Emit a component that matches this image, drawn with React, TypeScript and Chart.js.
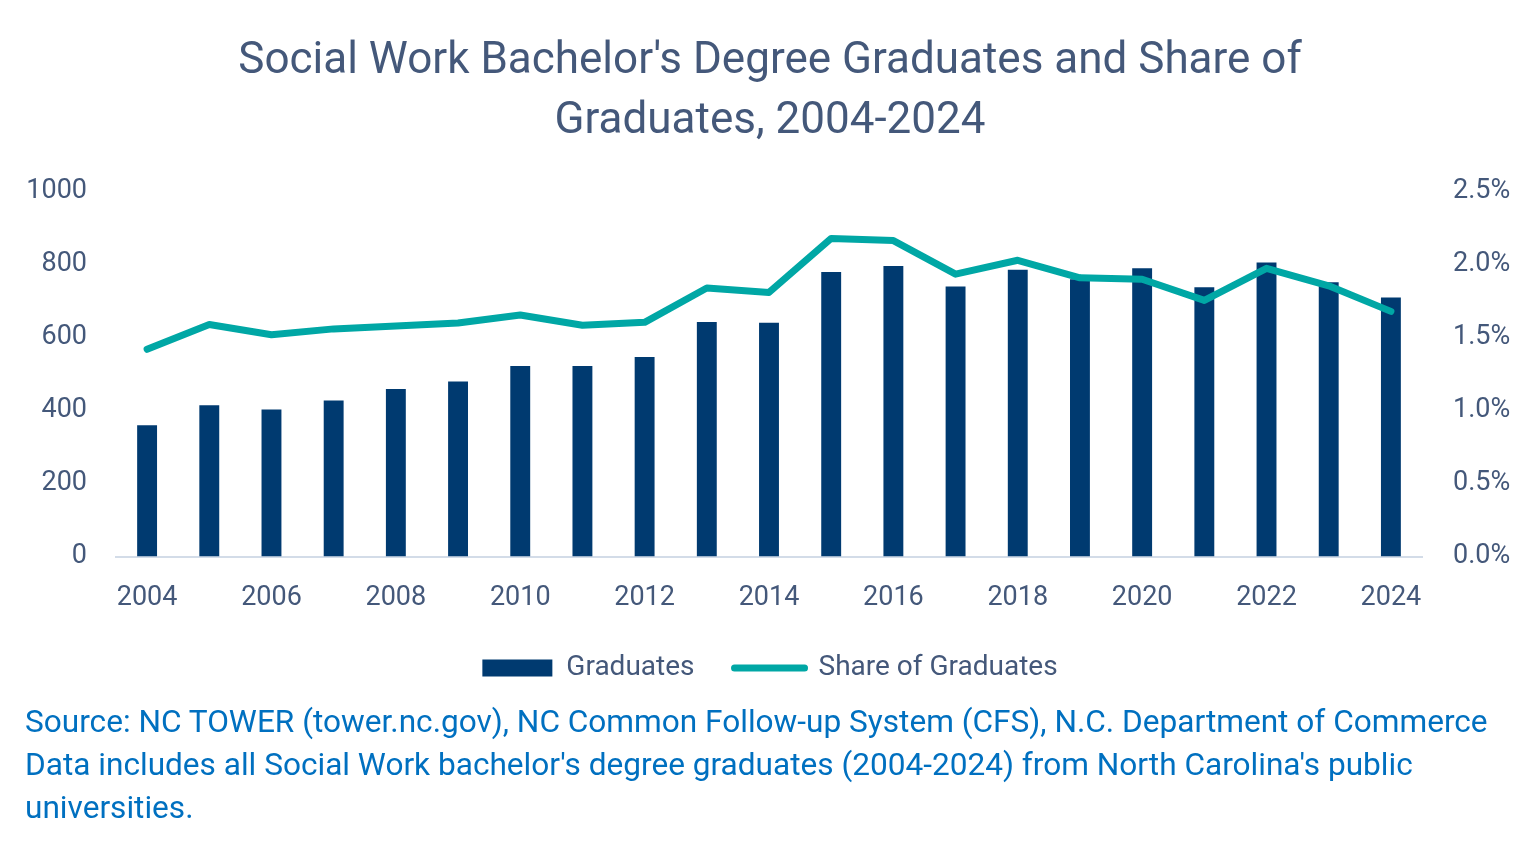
import React, { useEffect, useRef } from "react";
import { Chart, registerables } from "chart.js";

Chart.register(...registerables);

const years = ["2004","2005","2006","2007","2008","2009","2010","2011","2012","2013","2014","2015","2016","2017","2018","2019","2020","2021","2022","2023","2024"];
const graduates = [360, 415, 403, 428, 459, 480, 522, 522, 547, 643, 641, 780, 796, 740, 786, 760, 790, 738, 806, 752, 710];
const sharePct = [1.42, 1.59, 1.52, 1.56, 1.58, 1.60, 1.655, 1.585, 1.605, 1.84, 1.81, 2.18, 2.165, 1.935, 2.03, 1.91, 1.90, 1.755, 1.975, 1.855, 1.68];
const titleLines = ["Social Work Bachelor's Degree Graduates and Share of", "Graduates, 2004-2024"];
const sourceLines = [
  "Source: NC TOWER (tower.nc.gov), NC Common Follow-up System (CFS), N.C. Department of Commerce",
  "Data includes all Social Work bachelor's degree graduates (2004-2024) from North Carolina's public",
  "universities.",
];

const FONT = "'Liberation Sans Narrow', 'Roboto', sans-serif";
const TEXT = "#44587A";
const BAR = "#003A70";
const LINE = "#00A7A5";

export default function App() {
  const ref = useRef<HTMLCanvasElement | null>(null);
  useEffect(() => {
    if (!ref.current) return;
    const chart = new Chart(ref.current, {
      data: {
        labels: years,
        datasets: [
          {
            type: "line",
            label: "Share of Graduates",
            data: sharePct,
            yAxisID: "y1",
            borderColor: LINE,
            backgroundColor: LINE,
            borderWidth: 7,
            pointRadius: 0,
            borderCapStyle: "round",
            borderJoinStyle: "round",
            tension: 0,
            order: 0,
          },
          {
            type: "bar",
            label: "Graduates",
            data: graduates,
            yAxisID: "y",
            backgroundColor: BAR,
            categoryPercentage: 1,
            barPercentage: 0.32,
            order: 1,
          },
        ],
      },
      options: {
        animation: false,
        responsive: false,
        layout: { padding: { top: 0, left: 0, right: 0, bottom: 172 } },
        plugins: {
          title: {
            display: true,
            text: titleLines,
            color: TEXT,
            font: { family: FONT, size: 44, weight: "normal", lineHeight: 1.36 },
            padding: { top: 32, bottom: 40 },
          },
          legend: {
            position: "bottom",
            labels: {
              color: TEXT,
              font: { family: FONT, size: 28 },
              usePointStyle: true,
              pointStyleWidth: 70,
              boxHeight: 17,
              padding: 40,
              generateLabels: () => [
                { text: "Graduates", fillStyle: BAR, strokeStyle: BAR, lineWidth: 0, pointStyle: "rect", fontColor: TEXT, datasetIndex: 1 },
                { text: "Share of Graduates", fillStyle: LINE, strokeStyle: LINE, lineWidth: 7, lineCap: "round", pointStyle: "line", fontColor: TEXT, datasetIndex: 0 },
              ],
            },
          },
          tooltip: { enabled: false },
        },
        scales: {
          x: {
            offset: true,
            grid: { display: false, drawTicks: false },
            border: { display: true, color: "#D3DCE8", width: 2 },
            ticks: {
              color: TEXT,
              font: { family: FONT, size: 27 },
              padding: 25,
              maxRotation: 0,
              autoSkip: false,
              callback: (v: any, i: number) => (i % 2 === 0 ? years[i] : ""),
            },
            afterFit: (s: any) => { s.height = s.height - 25; },
          },
          y: {
            position: "left",
            min: 0,
            max: 1000,
            grid: { display: false, drawTicks: false },
            border: { display: false },
            ticks: {
              stepSize: 200,
              color: TEXT,
              font: { family: FONT, size: 27 },
              padding: 29,
              callback: (v: any) => String(v),
            },
            afterFit: (s: any) => { s.width = 116; },
          },
          y1: {
            position: "right",
            min: 0,
            max: 2.5,
            grid: { display: false, drawTicks: false },
            border: { display: false },
            ticks: {
              stepSize: 0.5,
              color: TEXT,
              font: { family: FONT, size: 27 },
              padding: 31,
              callback: (v: any) => Number(v).toFixed(1) + "%",
            },
            afterFit: (s: any) => { s.width = 118; },
          },
        },
      },
    } as any);
    return () => chart.destroy();
  }, []);

  return (
    <div style={{ position: "fixed", left: 0, top: 0, width: 1540, height: 864, background: "#fff" }}>
      <canvas ref={ref} width={1540} height={864} style={{ position: "absolute", left: 0, top: 0, width: 1540, height: 864 }} />
      <div
        style={{
          position: "absolute",
          left: 25,
          top: 700,
          fontFamily: FONT,
          fontSize: 31.6,
          lineHeight: "43px",
          color: "#0070C0",
          whiteSpace: "nowrap",
        }}
      >
        {sourceLines.map((l, i) => (
          <div key={i}>{l}</div>
        ))}
      </div>
    </div>
  );
}
